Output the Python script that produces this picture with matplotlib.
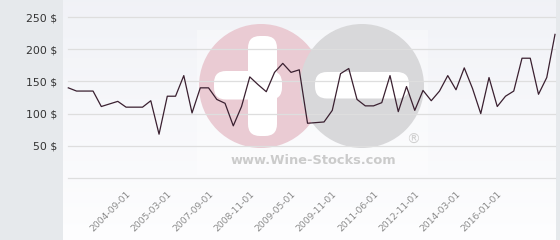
import numpy as np
import matplotlib
matplotlib.use("Agg")
import matplotlib.pyplot as plt
from matplotlib.patches import Circle, FancyBboxPatch, Rectangle

# price series (USD)
prices = [140, 135, 135, 135, 111, 115, 119, 110, 110, 110,
          120, 68, 127, 127, 159, 101, 140, 140, 122, 116,
          81, 111, 157, 145, 134, 164, 178, 164, 168, 85,
          86, 87, 105, 162, 170, 122, 112, 112, 117, 159,
          103, 142, 105, 136, 120, 135, 159, 137, 171, 139,
          100, 156, 111, 127, 135, 186, 186, 130, 156, 223]
date_labels = ["2004-09-01", "2005-03-01", "2007-09-01", "2008-11-01", "2009-05-01",
               "2009-11-01", "2011-06-01", "2012-11-01", "2014-03-01", "2016-01-01"]
y_ticks = [50, 100, 150, 200, 250]

W, H = 560, 240
fig = plt.figure(figsize=(W / 100, H / 100), dpi=100)
fig.patch.set_facecolor("#e6e9ec")

# background layer in pixel coordinates
bg = fig.add_axes([0, 0, 1, 1])
bg.set_xlim(0, W)
bg.set_ylim(H, 0)
bg.axis("off")
grad = np.linspace(0, 1, 100)[:, None]
top = np.array([0.945, 0.95, 0.968])
bot = np.array([0.995, 0.995, 0.998])
img = top + (bot - top) * grad[..., None]
bg.imshow(np.repeat(img, 2, axis=1), extent=(63, 556, H, 0), aspect="auto", zorder=0)

# watermark logo
bg.add_patch(Rectangle((197, 30), 231, 145, color="white", alpha=0.35, lw=0, zorder=1))
bg.add_patch(Circle((261, 86), 62, color="#eacbd3", lw=0, zorder=2))
bg.add_patch(Circle((362, 86), 62, color="#d8d8da", lw=0, zorder=3))
bg.add_patch(FancyBboxPatch((262, 50), 1, 72, boxstyle="round,pad=14,rounding_size=12",
                            color="white", lw=0, zorder=3))
bg.add_patch(FancyBboxPatch((228, 85), 40, 0.5, boxstyle="round,pad=14,rounding_size=12",
                            color="white", lw=0, zorder=2))
bg.add_patch(FancyBboxPatch((328, 85), 68, 0.5, boxstyle="round,pad=13,rounding_size=12",
                            color="white", lw=0, zorder=4))
bg.text(413, 140, "®", color="#d0d0d0", fontsize=10, ha="center", va="center", zorder=4)
bg.text(313, 161, "www.Wine-Stocks.com", color="#cbcbcb", fontsize=9.4,
        fontweight="bold", ha="center", va="center", zorder=4)

ax = fig.add_axes([68.3 / W, 1 - 178 / H, (555 - 68.3) / W, (178 - 17) / H])
ax.patch.set_alpha(0)
x = np.arange(len(prices))
ax.plot(x, prices, color="#3a2030", lw=0.9, clip_on=False, zorder=3)

ax.set_xlim(0, len(prices) - 1)
ax.set_ylim(0, 250)
ax.set_yticks([0] + y_ticks)
ax.set_yticklabels([""] + [f"{v} $" for v in y_ticks], fontsize=7.8, color="#333333")
ax.set_xticks(range(7, len(prices), 5)[:len(date_labels)])
ax.set_xticklabels(date_labels, rotation=45, ha="right", rotation_mode="anchor",
                   fontsize=6.6, color="#8a8a8a")
ax.tick_params(axis="y", length=0, pad=8)
ax.tick_params(axis="x", length=0, pad=8)
ax.grid(axis="y", color="#dedede", lw=0.9)
ax.grid(axis="x", visible=False)
for gl in ax.get_ygridlines():
    gl.set_clip_on(False)
for s in ax.spines.values():
    s.set_visible(False)

fig.savefig("out.png", dpi=100)
